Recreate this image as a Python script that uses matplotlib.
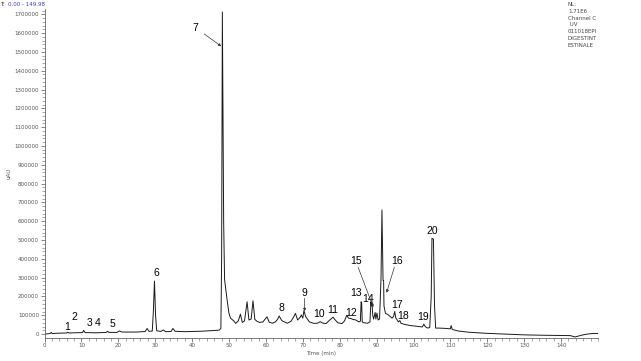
import matplotlib
matplotlib.use("Agg")
from matplotlib import pyplot as plt
from matplotlib.ticker import MultipleLocator

# chromatogram trace (time in min, signal in uAU)
time_min = [0.0, 1.5, 1.8, 2.1, 4.0, 6.0, 6.3, 6.6, 8.0, 10.3, 10.6, 11.0, 14.0,
            16.7, 17.1, 17.5, 19.6, 20.3, 21.0, 25.0, 27.3, 27.8, 28.3, 29.2,
            29.5, 29.8, 30.1, 30.4, 31.5, 32.2, 32.8, 34.3, 34.8, 35.4, 38.0,
            42.0, 45.0, 47.3, 47.8, 48.0, 48.2, 48.4, 48.55, 48.8, 49.5, 50.0,
            50.4, 51.3, 51.8, 52.5, 53.1, 53.6, 54.2, 54.9, 55.4, 56.0, 56.5,
            57.0, 57.6, 58.3, 59.2, 60.3, 60.9, 61.8, 62.6, 63.2, 63.6, 64.3,
            65.0, 65.8, 66.8, 67.5, 68.0, 68.6, 69.3, 69.6, 70.0, 70.3, 70.8,
            71.8, 73.0, 74.0, 74.7, 75.5, 76.3, 77.3, 78.2, 78.8, 79.5, 80.6,
            81.3, 81.9, 82.4, 83.0, 83.6, 84.4, 85.2, 85.6, 85.8, 85.95, 86.1,
            86.6, 87.6, 88.2, 88.45, 88.6, 88.75, 88.95, 89.2, 89.6, 89.8, 90.1,
            90.4, 90.8, 91.2, 91.45, 91.75, 91.9, 92.0, 92.4, 93.0, 93.6, 94.2,
            94.6, 94.9, 95.2, 95.6, 95.9, 96.3, 96.6, 97.5, 99.0, 101.0, 102.4,
            102.8, 103.2, 103.8, 104.4, 104.8, 105.0, 105.4, 105.7, 106.0, 107.0,
            109.0, 110.0, 110.2, 110.5, 112.0, 115.0, 120.0, 125.0, 130.0, 135.0,
            140.0, 142.5, 143.8, 144.4, 145.5, 147.0, 148.5, 150.0]
signal = [0, 3000, 9000, 3000, 5000, 6000, 10000, 6000, 7000, 8000, 20000, 8000, 7000,
          9000, 15000, 9000, 9000, 17000, 11000, 11000, 14000, 30000, 15000, 16000,
          120000, 282000, 100000, 18000, 14000, 22000, 13000, 14000, 30000, 15000, 13000,
          15000, 18000, 21000, 30000, 400000, 1712000, 1100000, 600000, 290000, 180000, 110000,
          85000, 70000, 57000, 70000, 106000, 62000, 70000, 172000, 75000, 80000, 177000,
          78000, 68000, 62000, 65000, 92000, 63000, 58000, 65000, 80000, 96000, 72000,
          65000, 58000, 68000, 90000, 110000, 75000, 90000, 102000, 85000, 125000, 92000,
          65000, 57000, 58000, 66000, 58000, 56000, 75000, 90000, 75000, 60000, 56000,
          70000, 100000, 85000, 83000, 78000, 75000, 65000, 68000, 172000, 165000, 65000,
          60000, 58000, 65000, 172000, 150000, 168000, 100000, 80000, 115000, 80000, 112000,
          75000, 80000, 300000, 660000, 285000, 285000, 150000, 110000, 105000, 95000, 85000,
          95000, 120000, 85000, 75000, 65000, 72000, 58000, 52000, 46000, 41000, 38000,
          53000, 40000, 32000, 35000, 200000, 509000, 505000, 150000, 32000, 32000,
          30000, 28000, 45000, 25000, 17000, 10000, 4000, 0, -4000, -6000,
          -7000, -8000, -15000, -12000, -6000, 0, 3000, 3500]

# peak numbers and where they are written
peak_labels = ["1", "2", "3", "4", "5", "6", "7", "8", "9", "10",
               "11", "12", "13", "14", "15", "16", "17", "18", "19", "20"]
label_t = [6.1, 8.1, 12.2, 14.4, 18.5, 30.4, 41.0, 64.3, 70.5, 74.5,
           78.0, 83.0, 84.5, 87.8, 84.4, 95.6, 95.5, 97.2, 102.6, 105.2]
label_v = [37000, 89000, 60000, 57000, 53000, 324000, 1626000, 137000, 216000, 106000,
           128000, 110000, 220000, 185000, 390000, 390000, 153000, 96000, 89000, 550000]

# arrows: (label tail) -> (peak tip)
arrows = [((43.3, 1595000), (47.9, 1530000)),
          ((70.5, 190000), (70.5, 122000)),
          ((85.0, 355000), (89.1, 143000)),
          ((94.8, 355000), (92.7, 220000))]

fig = plt.figure(figsize=(6.41, 3.61), dpi=100)
ax = fig.add_axes([44.5 / 641, 1 - 337.5 / 361, 553.5 / 641, 328.5 / 361])
ax.plot(time_min, signal, color="#1a1a1a", lw=0.7)
ax.set_xlim(0, 150)
ax.set_ylim(-18000, 1728000)

for s in ["top", "right"]:
    ax.spines[s].set_visible(False)
for s in ["left", "bottom"]:
    ax.spines[s].set_color("#666666")
    ax.spines[s].set_linewidth(0.6)

ax.xaxis.set_major_locator(MultipleLocator(10))
ax.xaxis.set_minor_locator(MultipleLocator(2))
ax.yaxis.set_major_locator(MultipleLocator(100000))
ax.yaxis.set_minor_locator(MultipleLocator(20000))
ax.xaxis.set_major_formatter(plt.FuncFormatter(lambda v, p: "%d" % v))
ax.yaxis.set_major_formatter(plt.FuncFormatter(lambda v, p: "%d" % v))
ax.tick_params(axis="both", which="major", labelsize=4, colors="#555555",
               length=3, width=0.5, pad=1)
ax.tick_params(axis="both", which="minor", colors="#666666", length=2, width=0.4)
ax.set_xticks(range(0, 141, 10))

ax.set_xlabel("Time (min)", fontsize=4, color="#555555", labelpad=2)
ax.set_ylabel("uAU", fontsize=4, color="#555555", labelpad=2)

for lab, t, v in zip(peak_labels, label_t, label_v):
    ax.text(t, v, lab, fontsize=7.5, family="Liberation Sans", ha="center", va="center")
for tail, tip in arrows:
    ax.annotate("", xy=tip, xytext=tail,
                arrowprops=dict(arrowstyle="-|>", color="#333333", lw=0.5,
                                mutation_scale=4, shrinkA=0, shrinkB=0))

fig.text(0.5 / 641, 1 - 5 / 361, "T:", fontsize=4, color="#222222", va="center")
fig.text(8 / 641, 1 - 5 / 361, "0.00 - 149.98", fontsize=4, color="#3a3acc", va="center")
fig.text(568 / 641, 1 - 2 / 361,
         "NL:\n1.71E6\nChannel C\n UV\n011018EPI\nDIGESTINT\nESTINALE",
         fontsize=4, color="#444444", va="top", ha="left", linespacing=1.45)

fig.savefig("out.png", dpi=100)
